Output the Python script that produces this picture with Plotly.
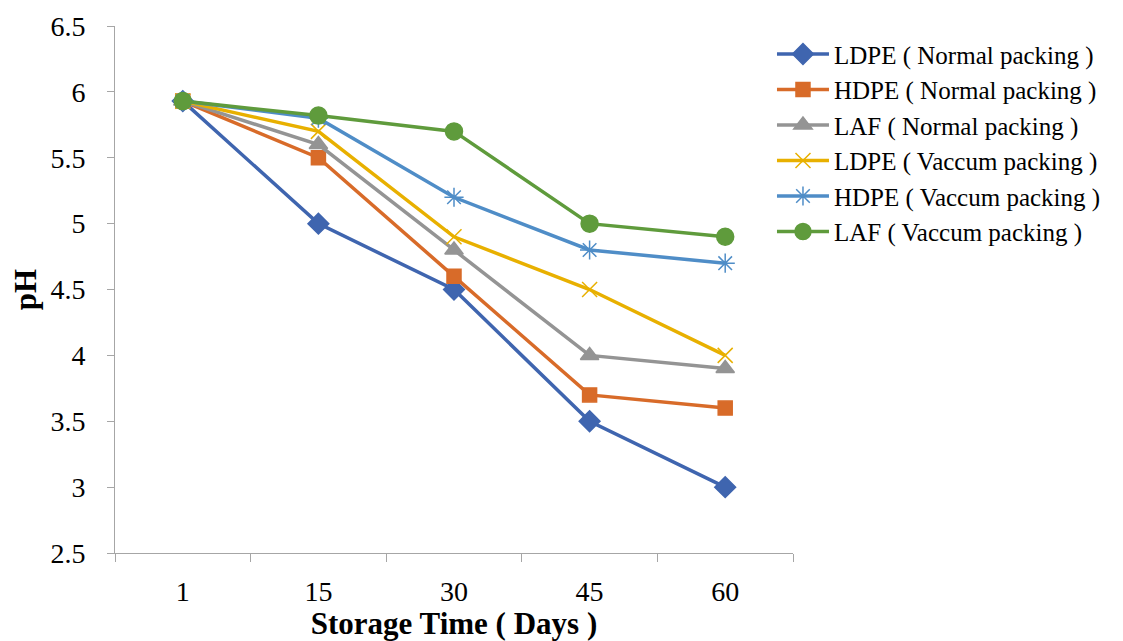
import plotly.graph_objects as go

days = ["1", "15", "30", "45", "60"]

ldpe_normal = [5.93, 5.0, 4.5, 3.5, 3.0]
hdpe_normal = [5.93, 5.5, 4.6, 3.7, 3.6]
laf_normal = [5.93, 5.6, 4.8, 4.0, 3.9]
ldpe_vacuum = [5.93, 5.7, 4.9, 4.5, 4.0]
hdpe_vacuum = [5.93, 5.8, 5.2, 4.8, 4.7]
laf_vacuum = [5.93, 5.82, 5.7, 5.0, 4.9]

series = [
    ("LDPE ( Normal packing )", ldpe_normal, "#3F65AF", "diamond", 16),
    ("HDPE ( Normal packing )", hdpe_normal, "#D86B29", "square", 14),
    ("LAF ( Normal packing )", laf_normal, "#949494", "triangle-up", 16),
    ("LDPE ( Vaccum packing )", ldpe_vacuum, "#E8B000", "x-thin-open", 15),
    ("HDPE ( Vaccum packing )", hdpe_vacuum, "#4F8DC7", "asterisk-open", 16),
    ("LAF ( Vaccum packing )", laf_vacuum, "#5F9B3C", "circle", 17),
]

fig = go.Figure()
for name, vals, color, symbol, size in series:
    fig.add_trace(go.Scatter(
        x=days, y=vals, name=name, mode="lines+markers",
        line=dict(color=color, width=3.5),
        marker=dict(symbol=symbol, size=size, color=color,
                    line=dict(color=color, width=1.5)),
    ))

serif = "Liberation Serif"

fig.update_layout(
    width=1123, height=641,
    margin=dict(l=115, r=330, t=26, b=88),
    paper_bgcolor="white", plot_bgcolor="white",
    font=dict(family=serif, size=26, color="black"),
    legend=dict(
        x=0.969, y=0.99, xanchor="left", yanchor="top",
        font=dict(family=serif, size=25, color="black"),
        tracegroupgap=0, itemwidth=52,
        bgcolor="rgba(0,0,0,0)",
    ),
    xaxis=dict(
        type="category", range=[-0.5, 4.5],
        showline=True, linecolor="#A6A6A6", linewidth=1,
        ticks="outside", tickson="boundaries", ticklen=8,
        tickcolor="#A6A6A6", showgrid=False, zeroline=False,
        tickfont=dict(family=serif, size=28),
        ticklabelstandoff=13,
        automargin=False,
        title=dict(text="<b>Storage Time ( Days )</b>",
                   font=dict(family=serif, size=31), standoff=0),
    ),
    yaxis=dict(
        range=[2.5, 6.5], dtick=0.5, tick0=2.5,
        showline=True, linecolor="#A6A6A6", linewidth=1,
        ticks="outside", ticklen=7, tickcolor="#A6A6A6",
        showgrid=False, zeroline=False,
        tickfont=dict(family=serif, size=28),
        ticklabelstandoff=16,
        automargin=False,
        title=dict(text="<b>pH</b>",
                   font=dict(family=serif, size=31), standoff=4),
    ),
)

fig.write_html("out.html")
